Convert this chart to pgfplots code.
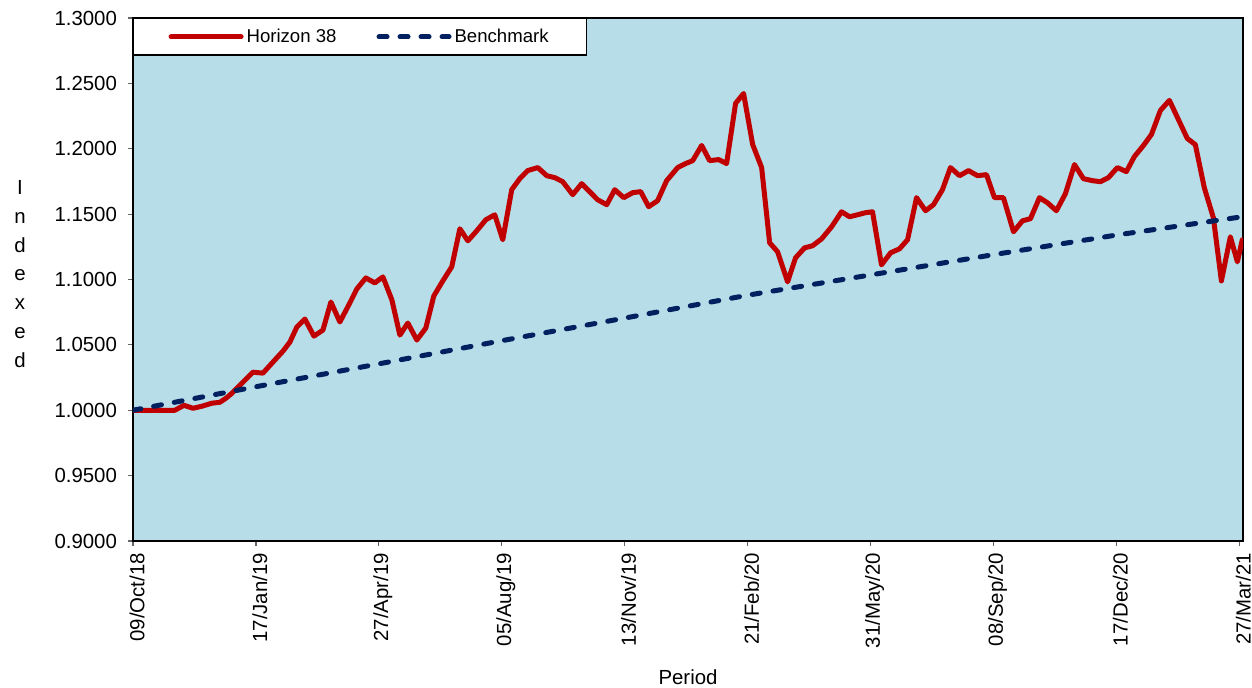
\documentclass[border=0pt]{standalone}
\usepackage{pgfplots}
\pgfplotsset{compat=1.18}
\usepackage{pgfplotstable}
\usepackage{fontspec}
\setmainfont{Liberation Sans}
\definecolor{hred}{RGB}{192,0,0}
\definecolor{bnavy}{RGB}{0,32,96}
\definecolor{bgblue}{RGB}{183,221,232}
\pgfplotstableread{
day value
0 1.0000
4.9 1.0000
11.4 1.0000
18.7 1.0000
26.0 1.0000
34.1 1.0000
41.5 1.0038
48.8 1.0015
56.1 1.0031
64.2 1.0054
70.7 1.0061
75.6 1.0092
80.5 1.0130
89.4 1.0215
97.6 1.0291
105.7 1.0284
113.8 1.0368
122.0 1.0452
127.6 1.0521
133.3 1.0637
139.8 1.0698
147.2 1.0567
154.5 1.0613
161.0 1.0828
168.3 1.0675
176.4 1.0821
182.1 1.0928
189.4 1.1012
196.7 1.0974
203.3 1.1020
210.6 1.0844
217.1 1.0575
223.6 1.0667
230.9 1.0537
238.2 1.0629
244.7 1.0874
252.0 1.0989
259.3 1.1097
265.9 1.1388
272.4 1.1296
279.7 1.1373
287.0 1.1457
294.3 1.1495
300.8 1.1304
308.1 1.1687
314.6 1.1771
321.1 1.1833
329.3 1.1856
336.6 1.1794
343.1 1.1779
349.6 1.1748
357.7 1.1649
365.0 1.1733
371.5 1.1672
378.0 1.1610
385.4 1.1572
391.9 1.1687
399.2 1.1626
406.5 1.1664
413.0 1.1672
419.5 1.1557
426.8 1.1603
434.1 1.1756
443.1 1.1856
449.6 1.1887
455.3 1.1909
462.6 1.2025
469.1 1.1909
476.4 1.1917
482.9 1.1887
490.2 1.2347
496.7 1.2423
504.1 1.2032
511.4 1.1856
517.9 1.1281
524.4 1.1212
532.5 1.0982
539.0 1.1166
546.3 1.1242
552.8 1.1258
560.2 1.1311
568.3 1.1403
576.4 1.1518
582.9 1.1480
589.4 1.1495
595.9 1.1511
601.6 1.1518
608.9 1.1112
616.3 1.1204
623.6 1.1235
630.1 1.1304
637.4 1.1626
644.7 1.1526
651.2 1.1572
658.5 1.1687
665.0 1.1856
672.4 1.1794
679.7 1.1833
687.0 1.1794
694.3 1.1802
700.8 1.1626
708.1 1.1626
716.3 1.1365
723.6 1.1449
730.1 1.1465
737.4 1.1626
743.9 1.1587
751.2 1.1526
758.5 1.1656
765.9 1.1879
773.2 1.1771
780.5 1.1756
787.0 1.1748
793.5 1.1779
800.8 1.1856
808.1 1.1825
814.6 1.1940
822.0 1.2025
828.5 1.2109
835.8 1.2293
843.1 1.2370
850.4 1.2224
857.7 1.2078
864.2 1.2032
871.5 1.1702
878.9 1.1472
885.4 1.0989
892.7 1.1327
898.4 1.1135
902.4 1.1304
}\horizon
\pgfplotstableread{
day value
0 1.0000
100 1.0180
200 1.0355
300 1.0532
400 1.0705
500 1.0880
600 1.1035
700 1.1190
800 1.1340
902.4 1.1480
}\bench
\begin{document}
\begin{tikzpicture}
\useasboundingbox (-66.5pt,-73pt) rectangle (559.5pt,270.5pt);
\begin{axis}[
  at={(0,0)}, anchor=south west,
  scale only axis, width=555pt, height=261.5pt,
  xmin=0, xmax=903, ymin=0.9, ymax=1.3,
  axis background/.style={fill=bgblue},
  axis line style={black, line width=0.6pt},
  xtick={0,100,...,900},
  xticklabels={09/Oct/18,17/Jan/19,27/Apr/19,05/Aug/19,13/Nov/19,21/Feb/20,31/May/20,08/Sep/20,17/Dec/20,27/Mar/21},
  ytick={0.9,0.95,...,1.31},
  tick align=outside, tickwidth=2.5pt,
  xtick pos=bottom, ytick pos=left,
  major tick style={gray!80!black, line width=0.6pt},
  tick label style={font=\fontsize{10.2}{12}\selectfont, black},
  /pgf/number format/assume math mode=true,
  yticklabel style={/pgf/number format/fixed, /pgf/number format/fixed zerofill, /pgf/number format/precision=4, xshift=-2pt},
  xticklabel style={rotate=90, anchor=east, yshift=-2pt},
  xlabel={Period},
  xlabel style={font=\fontsize{10.2}{12}\selectfont, at={(axis description cs:0.5,-0.26)}, anchor=center},
  ylabel={I\\n\\d\\e\\x\\e\\d},
  ylabel style={rotate=-90, align=center, font=\fontsize{10.2}{14.35}\selectfont, at={(axis description cs:-0.1018,0.5105)}, anchor=center},
  legend columns=2,
  legend image code/.code={\draw[#1] (0pt,0pt) -- (35pt,0pt);},
  legend style={at={(0,1)}, anchor=north west, draw=black, line width=0.6pt, fill=white,
    font=\fontsize{9.3}{11}\selectfont, inner xsep=17.5pt, inner ysep=3pt,
    nodes={inner xsep=1.5pt, inner ysep=2pt},
    /tikz/every even column/.append style={column sep=18.5pt}},
]
\addplot[hred, line width=2.5pt, line join=round, line cap=round] table[x=day, y=value] {\horizon};
\addlegendentry{Horizon 38}
\addplot[bnavy, line width=2.5pt, line cap=round, dash pattern=on 4pt off 6.5pt] table[x=day, y=value] {\bench};
\addlegendentry{Benchmark}
\end{axis}
\end{tikzpicture}
\end{document}
